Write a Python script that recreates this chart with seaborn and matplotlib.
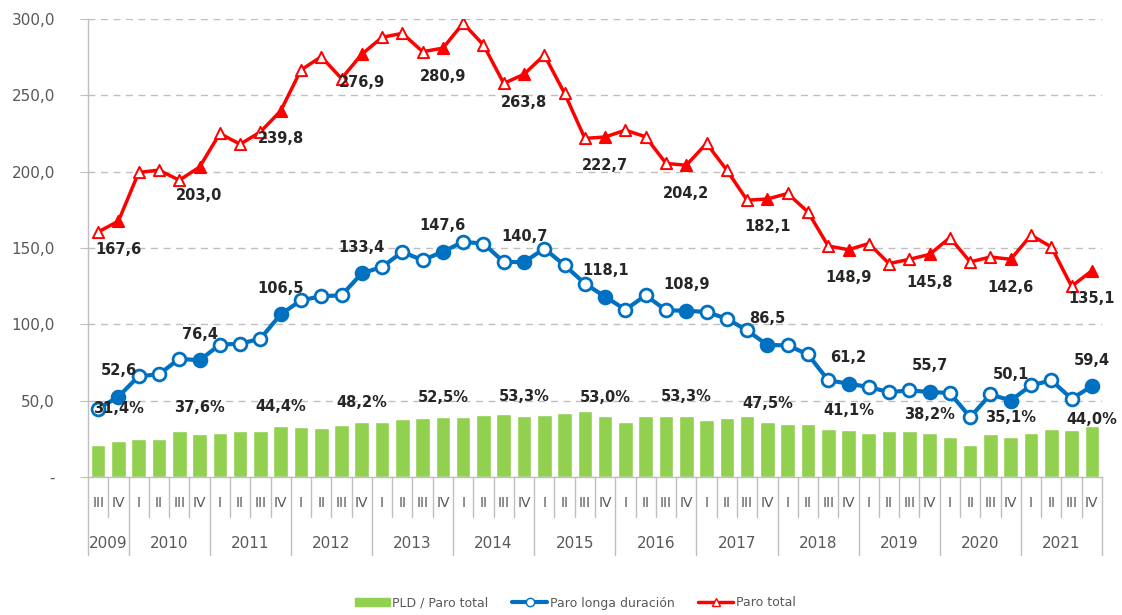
import matplotlib
matplotlib.use("Agg")
import matplotlib.pyplot as plt
import matplotlib.transforms as mtransforms
from matplotlib.lines import Line2D
from matplotlib.patches import Patch
from matplotlib.ticker import FuncFormatter
import numpy as np
import pandas as pd
import seaborn as sns

# quarters from 2009 III to 2021 IV
years = ["2009", "2010", "2011", "2012", "2013", "2014", "2015",
         "2016", "2017", "2018", "2019", "2020", "2021"]
quarter_labels = ["III", "IV"] + ["I", "II", "III", "IV"] * 12

# thousands of people
paro_total = [160.5, 167.6, 199.5, 201.0, 194.4, 203.0, 225.0, 218.0, 226.0, 239.8,
              266.6, 275.3, 261.0, 276.9, 288.0, 290.6, 278.6, 280.9, 297.2, 283.0,
              257.8, 263.8, 276.4, 251.3, 221.8, 222.7, 227.2, 222.8, 205.4, 204.2,
              218.5, 201.0, 181.3, 182.1, 185.7, 173.6, 151.3, 148.9, 152.9, 139.8,
              142.6, 145.8, 156.8, 140.9, 144.1, 142.6, 158.4, 150.7, 124.9, 135.1]
paro_longa = [44.7, 52.6, 66.1, 67.2, 77.5, 76.4, 86.7, 87.3, 90.6, 106.5,
              115.7, 118.4, 119.0, 133.4, 137.6, 147.4, 142.0, 147.6, 154.0, 152.9,
              140.9, 140.7, 149.6, 138.7, 126.7, 118.1, 109.6, 119.0, 109.2, 108.9,
              108.1, 103.7, 96.0, 86.5, 86.2, 80.3, 63.3, 61.2, 58.9, 55.6,
              56.7, 55.7, 55.0, 39.2, 54.1, 50.1, 60.0, 63.3, 51.3, 59.4]
# PLD / paro total, %
pld_pct = [27.9, 31.4, 33.1, 33.4, 39.9, 37.6, 38.5, 40.0, 40.1, 44.4,
           43.4, 43.0, 45.6, 48.2, 47.8, 50.7, 51.0, 52.5, 51.8, 54.0,
           54.7, 53.3, 54.1, 55.2, 57.1, 53.0, 48.2, 53.4, 53.2, 53.3,
           49.5, 51.6, 53.0, 47.5, 46.4, 46.3, 41.8, 41.1, 38.5, 39.8,
           39.8, 38.2, 35.1, 27.8, 37.5, 35.1, 37.9, 42.0, 41.1, 44.0]

year_of_quarter = ["2009"] * 2 + [y for y in years[1:] for _ in range(4)]

df = pd.DataFrame({
    "pos": np.arange(len(quarter_labels)),
    "trimestre": quarter_labels,
    "ano": year_of_quarter,
    "paro_total": paro_total,
    "paro_longa": paro_longa,
    "pld": pld_pct,
})
df["q4"] = df["trimestre"] == "IV"

RED = "#FF0000"
BLUE = "#0070C0"
GREEN = "#92D050"
GREY_TXT = "#595959"
GREY_LN = "#BFBFBF"
LABEL_TXT = "#262626"

sns.set_style("white")
plt.rcParams["font.family"] = ["DejaVu Sans"]

W, H = 1122, 615
left, right, top, bottom = 88, 1102, 19, 477
fig = plt.figure(figsize=(W / 100, H / 100), dpi=100)
ax = fig.add_axes([left / W, 1 - bottom / H, (right - left) / W, (bottom - top) / H])
ax2 = ax.twinx()

# bars on hidden secondary axis
sns.barplot(data=df, x="pos", y="pld", ax=ax2, color=GREEN, saturation=1,
            width=0.72, native_scale=True, errorbar=None)
ax2.set_ylim(0, 398)
ax2.axis("off")

# lines
sns.lineplot(data=df, x="pos", y="paro_total", ax=ax, color=RED, lw=2.5, legend=False, zorder=2)
sns.lineplot(data=df, x="pos", y="paro_longa", ax=ax, color=BLUE, lw=3, legend=False, zorder=2)

sns.scatterplot(data=df[~df.q4], x="pos", y="paro_total", ax=ax, marker="^", s=65,
                color="white", edgecolor=RED, linewidth=1.4, zorder=3, legend=False)
sns.scatterplot(data=df[df.q4], x="pos", y="paro_total", ax=ax, marker="^", s=65,
                color=RED, edgecolor=RED, linewidth=1.4, zorder=3, legend=False)
sns.scatterplot(data=df[~df.q4], x="pos", y="paro_longa", ax=ax, marker="o", s=85,
                color="white", edgecolor=BLUE, linewidth=2, zorder=3, legend=False)
sns.scatterplot(data=df[df.q4], x="pos", y="paro_longa", ax=ax, marker="o", s=85,
                color=BLUE, edgecolor=BLUE, linewidth=2, zorder=3, legend=False)

ax.set_zorder(ax2.get_zorder() + 1)
ax.patch.set_visible(False)


def coma(v, dec=1):
    return f"{v:.{dec}f}".replace(".", ",")


# data labels on Q4
pct_offsets = {1: 32, 5: 26, 49: 7}
for _, r in df[df.q4].iterrows():
    i = int(r.pos)
    ax.annotate(coma(r.paro_total), (i, r.paro_total), xytext=(0, -28),
                textcoords="offset pixels", ha="center", va="center",
                fontsize=10.5, fontweight="bold", color=LABEL_TXT, zorder=5)
    ax.annotate(coma(r.paro_longa), (i, r.paro_longa), xytext=(0, 26),
                textcoords="offset pixels", ha="center", va="center",
                fontsize=10.5, fontweight="bold", color=LABEL_TXT, zorder=5)
    ax.annotate(coma(r.pld) + "%", (i, r.pld), xycoords=ax2.transData,
                xytext=(0, pct_offsets.get(i, 19)),
                textcoords="offset pixels", ha="center", va="center",
                fontsize=10.5, fontweight="bold", color=LABEL_TXT, zorder=5)

# y axis
ax.set_ylim(0, 300)
ax.set_yticks(np.arange(0, 301, 50))
ax.yaxis.set_major_formatter(FuncFormatter(lambda v, p: "-" if v == 0 else coma(v)))
ax.tick_params(axis="y", length=5.8, color=GREY_LN, labelsize=11, labelcolor=GREY_TXT, pad=18, left=True)
ax.yaxis.grid(True, linestyle=(0, (5, 4)), color=GREY_LN, linewidth=1)
ax.set_axisbelow(True)
ax.set_ylabel("")
ax.set_xlabel("")
for s in ["top", "right"]:
    ax.spines[s].set_visible(False)
for s in ["left", "bottom"]:
    ax.spines[s].set_color(GREY_LN)
    ax.spines[s].set_linewidth(1)

# multi-level category axis
n = len(quarter_labels)
ax.set_xlim(-0.5, n - 0.5)
ax.set_xticks([])
trans = mtransforms.blended_transform_factory(ax.transData, ax.transAxes)
ax_h = bottom - top
for i in range(n + 1):
    is_year = i == 0 or i == n or quarter_labels[i] == "I"
    depth = 78 if is_year else 40
    ax.plot([i - 0.5, i - 0.5], [0, -depth / ax_h], transform=trans,
            color=GREY_LN, lw=1, clip_on=False)
for i, q in enumerate(quarter_labels):
    ax.text(i, -26 / ax_h, q, transform=trans, ha="center", va="center",
            fontsize=10, color=GREY_TXT)
for y in years:
    pos = df.loc[df.ano == y, "pos"].mean()
    ax.text(pos, -66 / ax_h, y, transform=trans, ha="center", va="center",
            fontsize=11, color=GREY_TXT)

# legend
handles = [
    Patch(facecolor=GREEN, edgecolor=GREEN),
    Line2D([0], [0], color=BLUE, lw=3, marker="o", markersize=6,
           markerfacecolor="white", markeredgecolor=BLUE),
    Line2D([0], [0], color=RED, lw=2.5, marker="^", markersize=6,
           markerfacecolor="white", markeredgecolor=RED),
]
fig.legend(handles, ["PLD / Paro total", "Paro longa duración", "Paro total"],
           loc="center", bbox_to_anchor=(575 / W, 1 - 603 / H), ncol=3,
           frameon=False, fontsize=9, labelcolor=GREY_TXT, handlelength=2.8,
           handleheight=0.6, handletextpad=0.2, columnspacing=1.9)

fig.savefig("out.png", dpi=100)
